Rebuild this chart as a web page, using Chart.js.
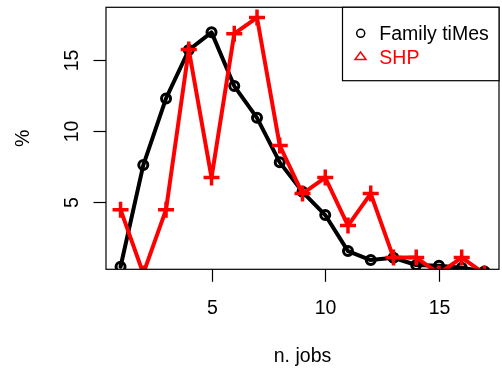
<!DOCTYPE html>
<html lang="en">
<head>
    <meta charset="UTF-8">
    <script src="https://cdn.jsdelivr.net/npm/chart.js@4.4.1/dist/chart.umd.min.js"></script>
    <title>n. jobs</title>
    <style>
        body {
            margin: 0;
            background: #ffffff;
        }
        canvas {
            display: block;
        }
    </style>
</head>
<body>
    <canvas id="myChart" width="502" height="374"></canvas>

    <script>
        // number of jobs and share of people (%) per survey
        const jobs = [1, 2, 3, 4, 5, 6, 7, 8, 9, 10, 11, 12, 13, 14, 15, 16, 17];
        const familyTimes = [0.48, 7.62, 12.30, 15.70, 16.94, 13.17, 10.94, 7.81, 5.74, 4.11, 1.58, 0.95, 1.11, 0.60, 0.55, 0.41, 0.15];
        const shp = [4.49, 0, 4.49, 15.73, 6.74, 16.85, 17.98, 8.99, 5.62, 6.74, 3.37, 5.62, 1.12, 1.12, 0, 1.12, 0];

        const xTicks = [5, 10, 15];
        const yTicks = [5, 10, 15];
        const seriesNames = ['Family tiMes', 'SHP'];

        const FONT = '19.5px "Liberation Sans", Arial, sans-serif';

        // axes, box, labels and legend drawn like base graphics
        const framePlugin = {
            id: 'frame',
            afterDraw(chart) {
                const ctx = chart.ctx;
                const a = chart.chartArea;
                const xs = chart.scales.x;
                const ys = chart.scales.y;
                ctx.save();
                ctx.strokeStyle = '#000';
                ctx.fillStyle = '#000';
                ctx.lineWidth = 1.2;
                ctx.strokeRect(a.left, a.top, a.right - a.left, a.bottom - a.top);

                ctx.font = FONT;
                // x axis
                ctx.textAlign = 'center';
                ctx.textBaseline = 'alphabetic';
                xTicks.forEach(v => {
                    const px = Math.round(xs.getPixelForValue(v)) + 0.5;
                    ctx.beginPath();
                    ctx.moveTo(px, a.bottom);
                    ctx.lineTo(px, a.bottom + 12.5);
                    ctx.stroke();
                    ctx.fillText(String(v), px, 313.5);
                });
                ctx.fillText('n. jobs', (a.left + a.right) / 2, 361.5);

                // y axis, labels rotated
                yTicks.forEach(v => {
                    const py = Math.round(ys.getPixelForValue(v)) + 0.5;
                    ctx.beginPath();
                    ctx.moveTo(a.left, py);
                    ctx.lineTo(a.left - 12.5, py);
                    ctx.stroke();
                    ctx.save();
                    ctx.translate(78.3, py);
                    ctx.rotate(-Math.PI / 2);
                    ctx.fillText(String(v), 0, 0);
                    ctx.restore();
                });
                ctx.save();
                ctx.translate(28.5, (a.top + a.bottom) / 2);
                ctx.rotate(-Math.PI / 2);
                ctx.fillText('%', 0, 0);
                ctx.restore();

                // legend
                const lx = 342.5, ly = a.top;
                ctx.fillStyle = '#fff';
                ctx.fillRect(lx, ly, a.right - lx, 80.7 - ly);
                ctx.strokeRect(lx, ly, a.right - lx, 80.7 - ly);

                ctx.lineWidth = 1.5;
                ctx.strokeStyle = '#000';
                ctx.beginPath();
                ctx.arc(360.7, 33.3, 4, 0, Math.PI * 2);
                ctx.stroke();

                ctx.strokeStyle = '#ff0000';
                ctx.beginPath();
                ctx.moveTo(360.5, 52);
                ctx.lineTo(366, 59.5);
                ctx.lineTo(355, 59.5);
                ctx.closePath();
                ctx.stroke();

                ctx.textAlign = 'left';
                ctx.fillStyle = '#000';
                ctx.fillText(seriesNames[0], 379.3, 40);
                ctx.fillStyle = '#ff0000';
                ctx.fillText(seriesNames[1], 379.3, 63.8);
                ctx.restore();
            }
        };

        const toPoints = vals => jobs.map((j, i) => ({ x: j, y: vals[i] }));

        const data = {
            datasets: [{
                label: seriesNames[1],
                data: toPoints(shp),
                borderColor: '#ff0000',
                backgroundColor: '#ff0000',
                borderWidth: 4,
                borderJoinStyle: 'round',
                borderCapStyle: 'round',
                tension: 0,
                pointStyle: 'cross',
                pointRadius: 8,
                pointBorderWidth: 3.5,
                pointBorderColor: '#ff0000',
                clip: 0,
                order: 1
            }, {
                label: seriesNames[0],
                data: toPoints(familyTimes),
                borderColor: '#000000',
                backgroundColor: 'rgba(0,0,0,0)',
                borderWidth: 4,
                borderJoinStyle: 'round',
                borderCapStyle: 'round',
                tension: 0,
                pointStyle: 'circle',
                pointRadius: 4.5,
                pointBorderWidth: 3,
                pointBorderColor: '#000000',
                pointBackgroundColor: 'rgba(0,0,0,0)',
                clip: 0,
                order: 2
            }]
        };

        const options = {
            responsive: false,
            animation: false,
            devicePixelRatio: 1,
            events: [],
            layout: {
                autoPadding: false,
                padding: { left: 106, top: 7.3, right: 3, bottom: 104.7 }
            },
            scales: {
                x: { type: 'linear', min: 0.36, max: 17.64, display: false },
                y: { type: 'linear', min: 0.3, max: 18.7, display: false }
            },
            plugins: {
                legend: { display: false },
                tooltip: { enabled: false }
            }
        };

        const myChart = new Chart(document.getElementById('myChart'), {
            type: 'line',
            data: data,
            options: options,
            plugins: [framePlugin]
        });
    </script>
</body>
</html>
